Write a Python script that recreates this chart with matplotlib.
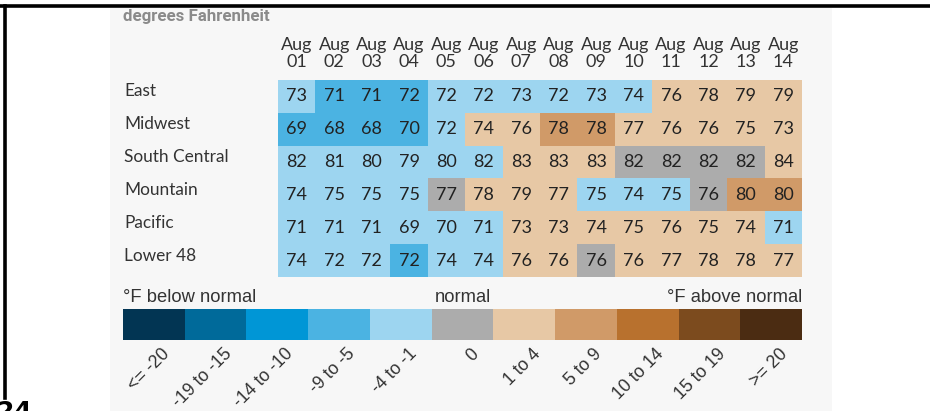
import numpy as np
import matplotlib
matplotlib.use("Agg")
import matplotlib.pyplot as plt
from matplotlib.colors import ListedColormap, BoundaryNorm
from matplotlib.patches import Rectangle
from matplotlib.lines import Line2D

# data
regions = ["East", "Midwest", "South Central", "Mountain", "Pacific", "Lower 48"]
days = ["01", "02", "03", "04", "05", "06", "07", "08", "09", "10", "11", "12", "13", "14"]

temps = [
    [73, 71, 71, 72, 72, 72, 73, 72, 73, 74, 76, 78, 79, 79],
    [69, 68, 68, 70, 72, 74, 76, 78, 78, 77, 76, 76, 75, 73],
    [82, 81, 80, 79, 80, 82, 83, 83, 83, 82, 82, 82, 82, 84],
    [74, 75, 75, 75, 77, 78, 79, 77, 75, 74, 75, 76, 80, 80],
    [71, 71, 71, 69, 70, 71, 73, 73, 74, 75, 76, 75, 74, 71],
    [74, 72, 72, 72, 74, 74, 76, 76, 76, 76, 77, 78, 78, 77],
]

# departure class per cell: -2 = -9 to -5, -1 = -4 to -1, 0 = normal, 1 = 1 to 4, 2 = 5 to 9
departure = [
    [-1, -2, -2, -2, -1, -1, -1, -1, -1, -1, 1, 1, 1, 1],
    [-2, -2, -2, -2, -1, 1, 1, 2, 2, 1, 1, 1, 1, 1],
    [-1, -1, -1, -1, -1, -1, 1, 1, 1, 0, 0, 0, 0, 1],
    [-1, -1, -1, -1, 0, 1, 1, 1, -1, -1, -1, 0, 2, 2],
    [-1, -1, -1, -1, -1, -1, 1, 1, 1, 1, 1, 1, 1, -1],
    [-1, -1, -1, -2, -1, -1, 1, 1, 0, 1, 1, 1, 1, 1],
]

bins = ["<= -20", "-19 to -15", "-14 to -10", "-9 to -5", "-4 to -1", "0",
        "1 to 4", "5 to 9", "10 to 14", "15 to 19", ">= 20"]
bin_colors = ["#023553", "#006a9a", "#0096d6", "#4bb3e2", "#9dd5f0", "#acacac",
              "#e7c8a5", "#d09a68", "#b8712e", "#7c4b1e", "#4b2c12"]

cmap = ListedColormap(bin_colors)
norm = BoundaryNorm(np.arange(-5.5, 6.5, 1), cmap.N)

W, H = 930, 411
fig = plt.figure(figsize=(W / 100, H / 100), dpi=100)
fig.patch.set_facecolor("white")

def fx(px):
    return px / W

def fy(py):
    return 1 - py / H

# light panel behind the chart
fig.patches.append(Rectangle((fx(110), 0), fx(832) - fx(110), fy(8), transform=fig.transFigure,
                             facecolor="#f7f7f7", edgecolor="none", zorder=-5))
# black frame lines
fig.add_artist(Line2D([0, 1], [fy(6), fy(6)], color="black", lw=2.6, transform=fig.transFigure))
fig.add_artist(Line2D([fx(4.5), fx(4.5)], [fy(6), fy(398)], color="black", lw=2.6, transform=fig.transFigure))
fig.text(fx(-3), fy(400), "24", fontsize=18, fontweight="heavy", ha="left", va="top",
         family="DejaVu Sans", color="black")

fig.text(fx(123), fy(21), "degrees Fahrenheit", fontsize=12.2, fontweight="bold", color="#8a8a8a",
         family="Roboto", ha="left", va="baseline")

# heatmap
ax = fig.add_axes([fx(278), fy(277), fx(802) - fx(278), fy(80) - fy(277)])
ax.set_facecolor("none")
dep = np.array(departure)
ax.pcolormesh(np.arange(len(days) + 1), np.arange(len(regions) + 1), dep, cmap=cmap, norm=norm)
ax.set_xlim(0, len(days))
ax.set_ylim(len(regions), 0)
for sp in ax.spines.values():
    sp.set_visible(False)
ax.tick_params(length=0)
ax.set_yticks([])
ax.xaxis.tick_top()
ax.set_xticks(np.arange(len(days)) + 0.5)
ax.set_xticklabels(["Aug\n" + d for d in days], fontsize=13, color="#333333",
                   family="Lato", linespacing=1.1)
ax.tick_params(axis="x", pad=7)

for i, row in enumerate(temps):
    for j, v in enumerate(row):
        ax.text(j + 0.5, i + 0.5, str(v), ha="center", va="center", fontsize=13,
                color="#222222", family="Lato")
    ax.text((124 - 278) / 524, i + 0.35, regions[i], transform=ax.get_yaxis_transform(),
            ha="left", va="center", fontsize=12.4, color="#333333", family="Lato")

# legend bar
lax = fig.add_axes([fx(123), fy(340), fx(802) - fx(123), fy(309) - fy(340)])
lax.set_facecolor("none")
lax.pcolormesh(np.arange(len(bins) + 1), [0, 1], np.arange(-5, 6).reshape(1, -1), cmap=cmap, norm=norm)
lax.set_xlim(0, len(bins))
lax.set_ylim(0, 1)
for sp in lax.spines.values():
    sp.set_visible(False)
lax.set_yticks([])
lax.set_xticks(np.arange(len(bins)) + 0.62)
lax.set_xticklabels(bins, rotation=45, ha="right", rotation_mode="anchor", fontsize=12.8,
                    color="#333333", family="Liberation Sans")
lax.tick_params(axis="x", length=0, pad=4)

lax.text(0, 1.1, "°F below normal", transform=lax.transAxes, ha="left", va="bottom",
         fontsize=13.2, color="#333333", family="Liberation Sans")
lax.text(5.5, 1.1, "normal", transform=lax.get_xaxis_transform(), ha="center", va="bottom",
         fontsize=13.2, color="#333333", family="Liberation Sans")
lax.text(1, 1.1, "°F above normal", transform=lax.transAxes, ha="right", va="bottom",
         fontsize=13.2, color="#333333", family="Liberation Sans")

fig.savefig("out.png", dpi=100)
